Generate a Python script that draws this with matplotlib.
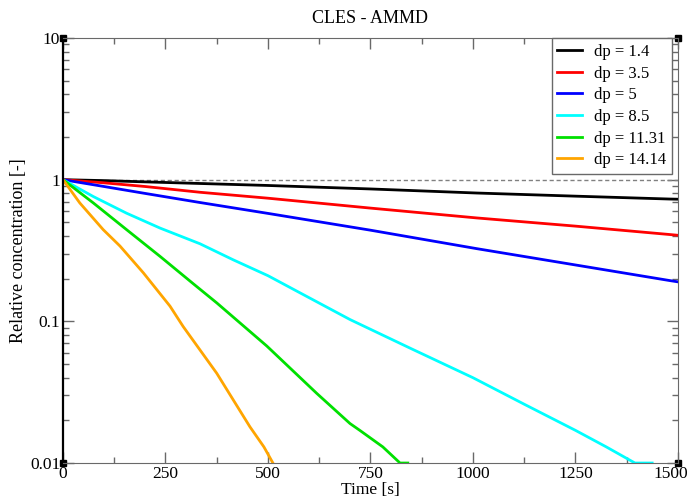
import matplotlib.pyplot as plt
from matplotlib.ticker import FixedLocator, FixedFormatter, LogLocator, MultipleLocator

plt.rcParams['font.family'] = ['Liberation Serif', 'DejaVu Serif']

# values (time in s, relative concentration)
t_14 = [0, 100, 200, 334, 500, 750, 1009, 1250, 1480, 1500]
c_14 = [1.0, 0.985, 0.965, 0.94, 0.91, 0.86, 0.805, 0.765, 0.73, 0.728]

t_35 = [0, 100, 200, 334, 500, 750, 1009, 1250, 1480, 1500]
c_35 = [1.0, 0.95, 0.895, 0.815, 0.74, 0.63, 0.537, 0.47, 0.41, 0.405]

t_5 = [0, 100, 200, 334, 500, 750, 1009, 1250, 1480, 1500]
c_5 = [1.0, 0.895, 0.80, 0.69, 0.578, 0.44, 0.326, 0.25, 0.194, 0.19]

t_85 = [0, 74, 155, 237, 334, 415, 500, 578, 700, 850, 1000, 1125, 1250, 1325, 1395, 1437]
c_85 = [1.0, 0.76, 0.58, 0.455, 0.353, 0.272, 0.21, 0.159, 0.103, 0.064, 0.040, 0.026, 0.017, 0.013, 0.01, 0.01]

t_113 = [0, 74, 155, 237, 318, 375, 497, 619, 700, 724, 780, 822, 841]
c_113 = [1.0, 0.685, 0.444, 0.287, 0.184, 0.135, 0.067, 0.031, 0.019, 0.017, 0.013, 0.01, 0.01]

t_141 = [0, 41, 98, 139, 196, 261, 293, 375, 456, 490, 512]
c_141 = [1.0, 0.685, 0.444, 0.34, 0.22, 0.128, 0.092, 0.043, 0.018, 0.013, 0.01]

series = [
    (t_14, c_14, 'black', 'dp = 1.4'),
    (t_35, c_35, 'red', 'dp = 3.5'),
    (t_5, c_5, 'blue', 'dp = 5'),
    (t_85, c_85, 'cyan', 'dp = 8.5'),
    (t_113, c_113, '#00e000', 'dp = 11.31'),
    (t_141, c_141, 'orange', 'dp = 14.14'),
]

x_ticks = [0, 250, 500, 750, 1000, 1250, 1500]
x_labels = ['0', '250', '500', '750', '1000', '1250', '1500']
y_ticks = [0.01, 0.1, 1, 10]
y_labels = ['0.01', '0.1', '1', '10']

fig = plt.figure(figsize=(6.9, 5.04), dpi=100)
ax = fig.add_axes([0.0913, 0.0813, 0.8913, 0.8433])

# reference line at 1
ax.plot([0, 1500], [1, 1], color='gray', lw=1, ls=(0, (3, 2)))

for t, c, col, lab in series:
    ax.plot(t, c, color=col, lw=2, label=lab)

ax.set_yscale('log')
ax.set_xlim(0, 1500)
ax.set_ylim(0.01, 10)
ax.xaxis.set_major_locator(FixedLocator(x_ticks))
# last label is drawn separately, shifted a bit so it stays inside the picture
ax.xaxis.set_major_formatter(FixedFormatter(x_labels[:-1] + ['']))
ax.xaxis.set_minor_locator(MultipleLocator(125))
ax.yaxis.set_major_locator(FixedLocator(y_ticks))
ax.yaxis.set_major_formatter(FixedFormatter(y_labels))
ax.yaxis.set_minor_locator(LogLocator(base=10, subs=range(2, 10)))
ax.tick_params(which='both', direction='in', top=True, right=True, labelsize=12.5, color='dimgray')
ax.tick_params(which='major', length=8, width=1, pad=2)
ax.tick_params(which='minor', length=4, width=1)
for s in ['top', 'bottom', 'right']:
    ax.spines[s].set_color('dimgray')
ax.spines['left'].set_color('black')
ax.spines['left'].set_linewidth(1.6)

ax.annotate(x_labels[-1], xy=(1, 0), xycoords='axes fraction', xytext=(-5, -2),
            textcoords='offset points', ha='center', va='top', fontsize=12.5)

# corner markers like the original plotting tool
for cx, cy in [(0, 0), (1, 0), (0, 1), (1, 1)]:
    ax.plot(cx, cy, marker='s', ms=5, color='black', transform=ax.transAxes, clip_on=False)

ax.set_title('CLES - AMMD', fontsize=13, pad=11)
ax.set_xlabel('Time [s]', fontsize=12.5, labelpad=0)
ax.set_ylabel('Relative concentration [-]', fontsize=13, labelpad=2)

leg = ax.legend(loc='upper right', bbox_to_anchor=(0.9739, 0.9246), bbox_transform=fig.transFigure,
                fontsize=12, fancybox=False, framealpha=1, edgecolor='dimgray',
                handlelength=1.5, handletextpad=0.7, labelspacing=0.34,
                borderaxespad=0, borderpad=0.35)
leg.get_frame().set_linewidth(1)

fig.savefig('out.png', dpi=100)
